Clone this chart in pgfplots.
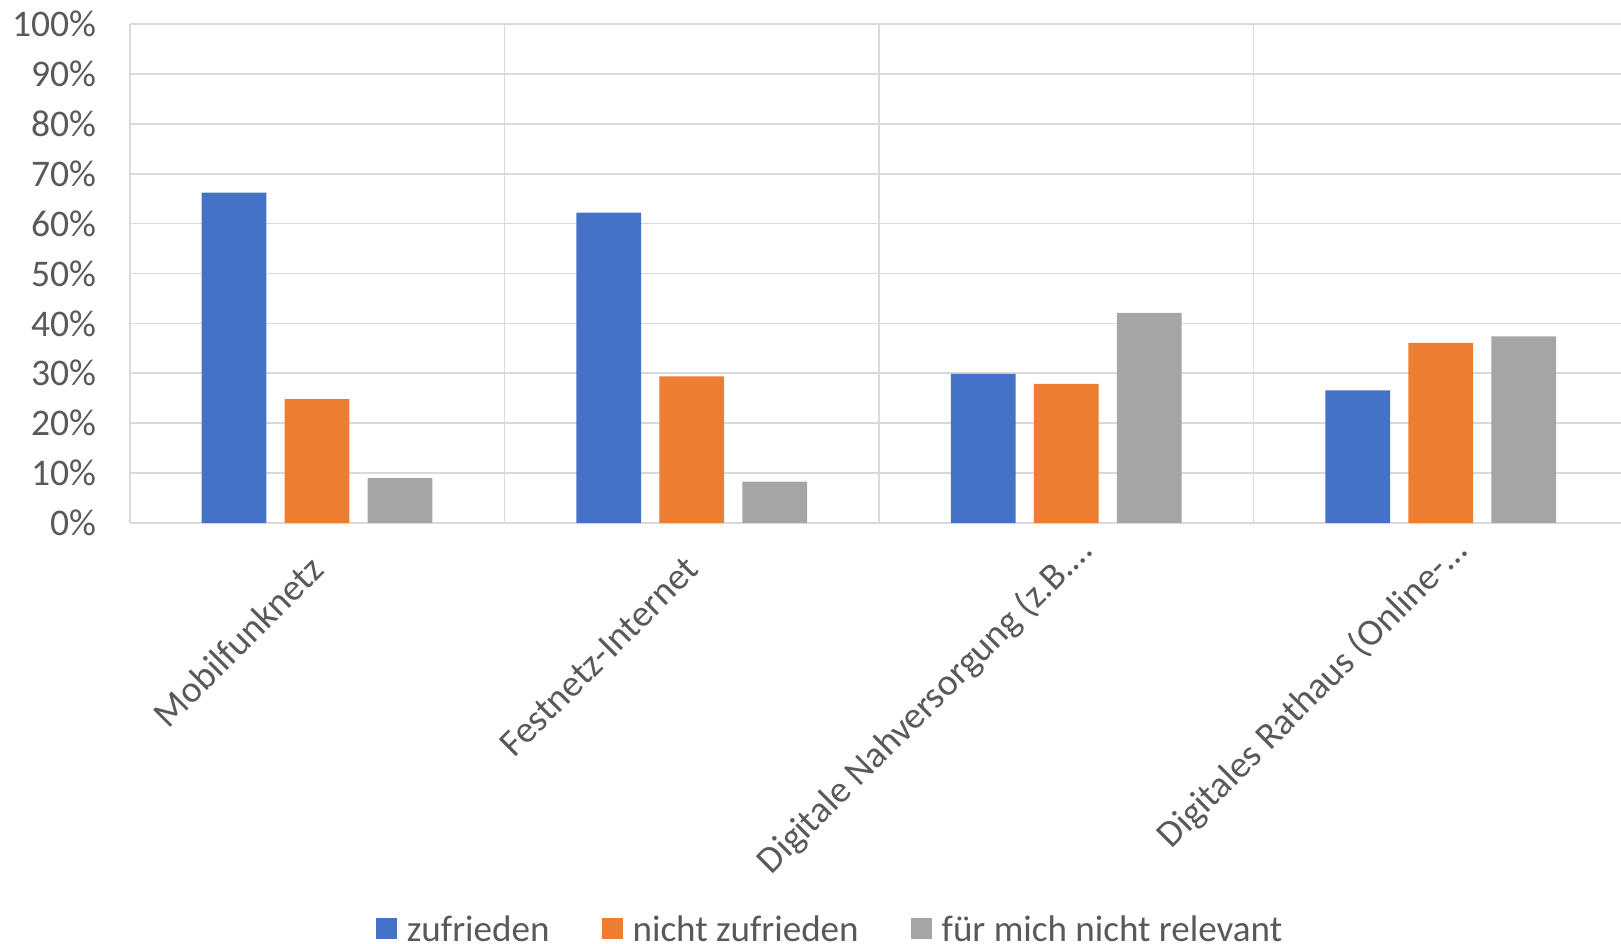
\documentclass[border=0pt]{standalone}
\usepackage{fontspec}
\setmainfont{Carlito}
\usepackage{pgfplots}
\pgfplotsset{compat=1.18}
\definecolor{cblue}{HTML}{4472C4}
\definecolor{corange}{HTML}{ED7D31}
\definecolor{cgray}{HTML}{A5A5A5}
\definecolor{cgrid}{HTML}{D9D9D9}
\definecolor{ctext}{HTML}{595959}
\begin{document}
\begin{tikzpicture}
\path[use as bounding box] (0,0) rectangle (16.21,9.44);
\begin{axis}[
  at={(1.298cm,4.21cm)}, anchor=south west,
  scale only axis, width=14.912cm, height=4.99cm,
  xmin=-0.5, xmax=3.481, ymin=0, ymax=100,
  ybar=0.183cm, bar width=0.647cm,
  axis line style={draw=none},
  major tick length=0pt, minor tick length=0pt,
  xtick={0,1,2,3},
  xticklabels={Mobilfunknetz\rule{0.265cm}{0pt}, Festnetz-Internet\rule{0.265cm}{0pt}, Digitale Nahversorgung (z.B.…, Digitales Rathaus (Online-…},
  minor xtick={-0.5,0.5,1.5,2.5},
  xminorgrids, ymajorgrids,
  grid style={cgrid, line width=0.5pt},
  minor grid style={cgrid, line width=0.5pt},
  ytick={0,10,...,100},
  yticklabels={0\%,10\%,20\%,30\%,40\%,50\%,60\%,70\%,80\%,90\%,100\%},
  yticklabel style={font=\fontsize{10.7}{12}\selectfont, text=ctext, inner sep=0pt, xshift=-0.33cm},
  xticklabel style={font=\fontsize{10.7}{12}\selectfont, text=ctext, inner sep=0pt, xshift=0.282cm, yshift=-0.297cm, rotate=45, anchor=base east},
  legend columns=3,
  legend style={at={(axis description cs:0.1651,-0.8497)}, anchor=south west, draw=none, fill=none, inner sep=0pt, outer sep=0pt, font=\fontsize{10.55}{12}\selectfont, text=ctext, nodes={inner sep=0pt}, /tikz/every odd column/.style={column sep=0.1cm}, /tikz/every even column/.style={column sep=0.52cm}},
  legend image code/.code={\fill[#1] (0cm,-0.08cm) rectangle (0.21cm,0.13cm);},
  clip=false,
]
\addplot[fill=cblue, draw=none] coordinates {(0,66.2) (1,62.2) (2,29.9) (3,26.6)};
\addplot[fill=corange, draw=none] coordinates {(0,24.8) (1,29.4) (2,27.9) (3,36.1)};
\addplot[fill=cgray, draw=none] coordinates {(0,9.0) (1,8.3) (2,42.1) (3,37.4)};
\legend{zufrieden, nicht zufrieden, für mich nicht relevant}
\end{axis}
\end{tikzpicture}
\end{document}
